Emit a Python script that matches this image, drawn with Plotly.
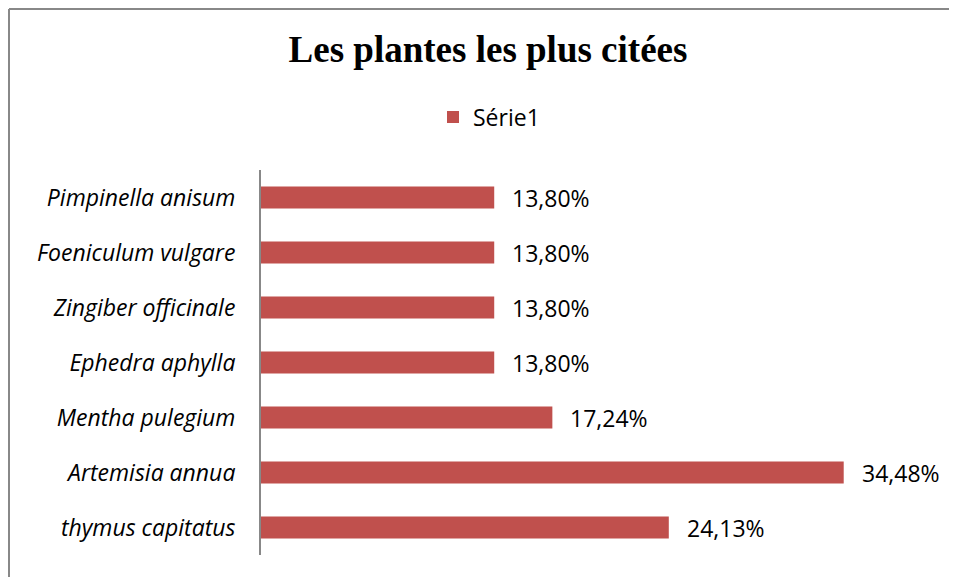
import plotly.graph_objects as go

categories = ["thymus capitatus", "Artemisia annua", "Mentha pulegium", "Ephedra aphylla",
              "Zingiber officinale", "Foeniculum vulgare", "Pimpinella anisum"]
values = [24.13, 34.48, 17.24, 13.80, 13.80, 13.80, 13.80]
series_name = "Série1"
title_text = "Les plantes les plus citées"

BAR = "#C0504D"
# page has an 8px body margin, so the figure is sized to fit the 957x577 window
W, H = 949, 569
L, R, T, B = 253, 20, 162, 22
pw, ph = W - L - R, H - T - B
FONT = "Open Sans, Lato, sans-serif"

labels = [f"{v:.2f}".replace(".", ",") + "%" for v in values]

fig = go.Figure()
fig.add_trace(go.Bar(
    y=categories, x=values, orientation="h", name=series_name,
    marker=dict(color=BAR, line=dict(width=0)), width=0.4,
    showlegend=True, hoverinfo="skip",
))

for c, v, t in zip(categories, values, labels):
    fig.add_annotation(x=v, y=c, xref="x", yref="y", text=t, showarrow=False,
                       xanchor="left", yanchor="middle", xshift=16,
                       font=dict(family=FONT, size=23, color="#000"))

# outer chart border: only the top and left edges are visible in the reference
bx0, by_top, by_bot, bx_right = (1 - L) / pw, (H - 1 - B) / ph, -B / ph, (W - L) / pw
fig.add_shape(type="line", xref="paper", yref="paper", x0=bx0, x1=bx_right, y0=by_top, y1=by_top,
              line=dict(color="#888888", width=2), layer="below")
fig.add_shape(type="line", xref="paper", yref="paper", x0=bx0, x1=bx0, y0=by_bot, y1=by_top,
              line=dict(color="#888888", width=2), layer="below")

fig.update_layout(
    width=W, height=H,
    margin=dict(l=L, r=R, t=T, b=B, pad=0),
    paper_bgcolor="white", plot_bgcolor="white",
    title=dict(text=f"<b>{title_text}</b>", x=480 / W, xanchor="center",
               y=1 - 41 / H, yanchor="middle", yref="container",
               font=dict(family="Liberation Serif, Times New Roman, serif", size=37, color="#000")),
    legend=dict(orientation="h", x=(425 - L) / pw, xanchor="left",
                y=(H - B - 109) / ph, yanchor="middle",
                font=dict(family=FONT, size=23, color="#000"),
                bgcolor="rgba(0,0,0,0)"),
    xaxis=dict(range=[0, 40], visible=False, showgrid=False, zeroline=False, fixedrange=True),
    yaxis=dict(showline=True, linecolor="#888888", linewidth=2, showgrid=False,
               ticks="", ticklabelstandoff=19, range=[-0.5, 6.5],
               tickfont=dict(family=FONT, size=23, color="#000", style="italic")),
    bargap=0.6,
)

fig.write_html("out.html")
